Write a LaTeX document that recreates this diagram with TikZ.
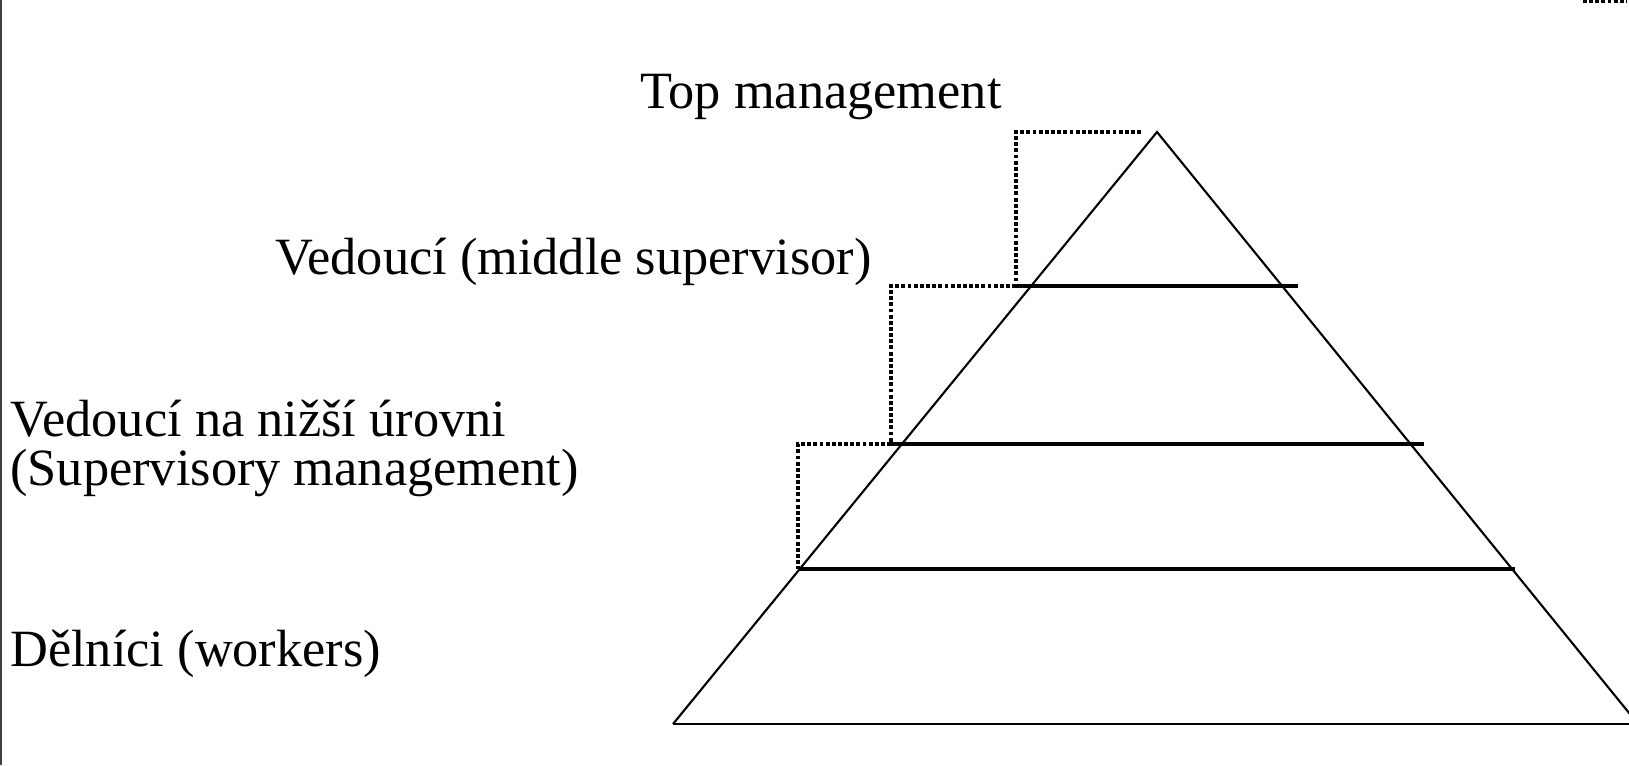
\documentclass[tikz,border=0pt]{standalone}
\usepackage{fontspec}
\setmainfont{Liberation Serif}
\usetikzlibrary{positioning}

\tikzset{
  side/.style={black,line width=1.2pt,line join=miter},
  level/.style={black,line width=1.8pt},
  stair/.style={black,line width=2.2pt,dash pattern=on 2.2pt off 1.3pt},
  lbl/.style={inner sep=0pt,anchor=base west,font=\fontsize{29.8}{27.5}\selectfont,align=left}
}

\begin{document}
\begin{tikzpicture}[x=0.02cm,y=-0.02cm]
            \clip (0,0) rectangle (1629,765);
            \fill[white] (0,0) rectangle (1629,765);
            % frame line on the left
            \coordinate (ftop) at (1,0);
            \coordinate (fbot) at (1,765);
            \draw[black!75,line width=0.8pt] (ftop) -- (fbot);

            % pyramid
            \coordinate (apex) at (1157,132);
            \coordinate (bl) at (673,724);
            \coordinate (br) at (1638,724);
            \draw[side] (bl) -- (apex) -- (br);
            \draw[side] (bl) -- (br);

            % levels
            \coordinate (l1) at (1016,286);
            \coordinate (r1) at (1298,286);
            \coordinate (l2) at (891,444);
            \coordinate (r2) at (1424,444);
            \coordinate (l3) at (798,569);
            \coordinate (r3) at (1515,569);
            \draw[level] (l1) -- (r1);
            \draw[level] (l2) -- (r2);
            \draw[level] (l3) -- (r3);

            % dotted steps
            \coordinate (s0) at (1141,132);
            \coordinate (c1) at (1016,132);
            \coordinate (c2) at (891,286);
            \coordinate (c3) at (798,444);
            \draw[stair] (s0) -- (c1) -- (l1);
            \draw[stair] (l1) -- (c2) -- (l2);
            \draw[stair] (l2) -- (c3) -- (l3);
            \coordinate (m1) at (1583,1);
            \coordinate (m2) at (1627,1);
            \draw[stair] (m1) -- (m2);

            % labels
            \node[lbl] (toplbl) at (640,108) {Top management};
            \node[lbl] (midlbl) at (275,274) {Vedoucí (middle supervisor)};
            \node[lbl] (lowlbl) at (10,485) {Vedoucí na nižší úrovni\\(Supervisory management)};
            \node[lbl] (worklbl) at (10,666) {Dělníci (workers)};
        \end{tikzpicture}
\end{document}
